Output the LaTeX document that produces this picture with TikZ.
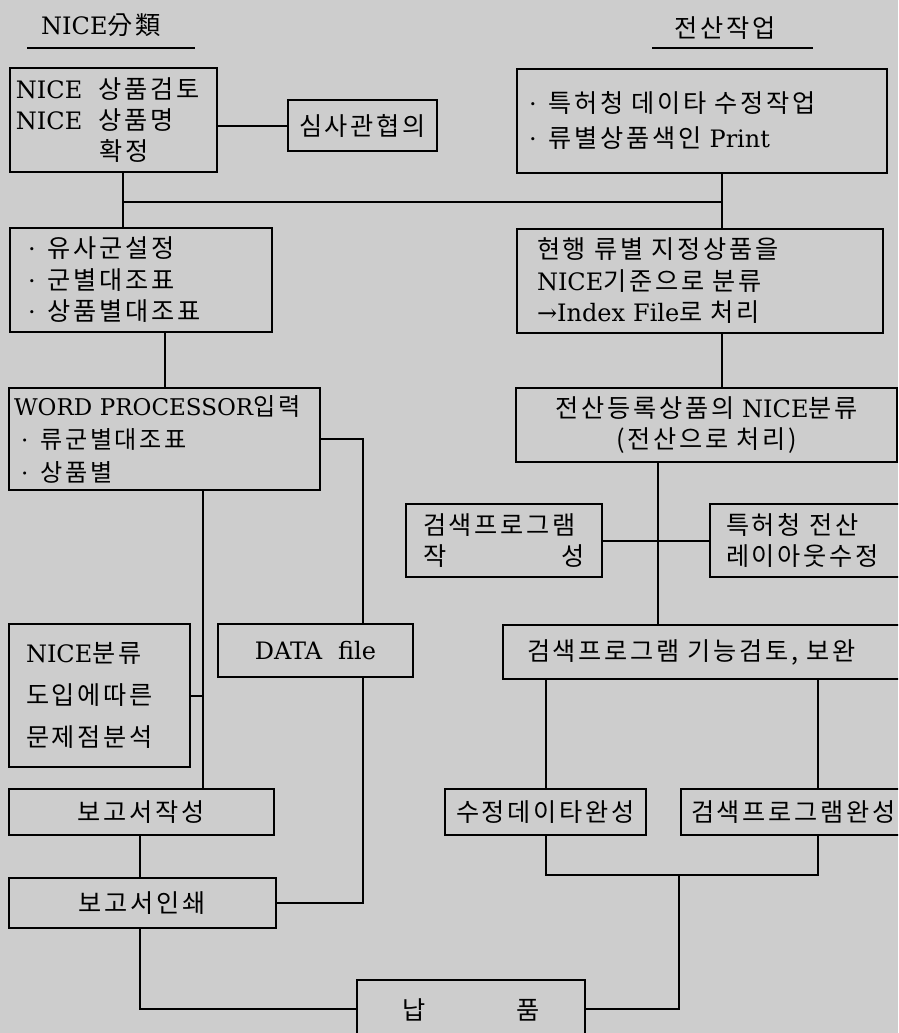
\documentclass[tikz,border=0pt]{standalone}
\usepackage{fontspec}
\setmainfont{DejaVu Serif}
\newfontfamily\kr[Scale=1.05,WordSpace=4.5,LetterSpace=11]{Noto Sans CJK KR}
\newcommand\K[1]{{\kr #1}}
\newcommand\bul{·\hspace{12pt}}
\definecolor{paper}{RGB}{205,205,205}
\begin{document}
\begin{tikzpicture}[x=1pt,y=-1pt,
  box/.style={draw,line width=2.4pt,rectangle,inner sep=0pt,font=\fontsize{24}{31}\selectfont},
  ttl/.style={inner sep=0pt,font=\fontsize{24}{31}\selectfont},
  ln/.style={line width=2pt}]
\fill[paper] (0,0) rectangle (898,1033);
\useasboundingbox (0,0) rectangle (898,1033);
\clip (0,0) rectangle (898,1033);

% titles
\node[ttl] (T1) at (101,25) {NICE\K{分類}};
\node[ttl] (T2) at (725,28) {\K{전산작업}};
\draw[ln] (27,48) -- (195,48);
\draw[ln] (652,48) -- (813,48);

% left column
\node[box,minimum width=207pt,minimum height=104pt,text width=195pt,inner xsep=6pt,align=left] (A) at (113.5,120)
  {NICE\hspace{16pt}\K{상품검토}\\NICE\hspace{16pt}\K{상품명}\\\hspace*{84pt}\K{확정}};
\node[box,minimum width=149pt,minimum height=51pt,align=center] (B) at (362.5,125.5) {\K{심사관협의}};
\node[box,minimum width=262pt,minimum height=104pt,text width=226pt,inner xsep=18pt,align=left,
  font=\fontsize{24}{31.5}\selectfont] (D) at (141,280)
  {\bul\K{유사군설정}\\\bul\K{군별대조표}\\\bul\K{상품별대조표}};
\node[box,minimum width=311pt,minimum height=102pt,text width=301pt,inner xsep=5pt,align=left,
  font=\fontsize{23}{33}\selectfont] (F) at (164.5,439)
  {WORD PROCESSOR\K{입력}\\\hspace*{7pt}\bul\K{류군별대조표}\\\hspace*{7pt}\bul\K{상품별}};
\node[box,minimum width=181pt,minimum height=143pt,text width=147pt,inner xsep=17pt,align=left,
  font=\fontsize{24}{42}\selectfont] (K) at (99.5,695.5)
  {NICE\K{분류}\\\K{도입에따른}\\\K{문제점분석}};
\node[box,minimum width=195pt,minimum height=53pt,align=center] (L) at (315.5,650.5) {DATA\hspace{16pt}file};
\node[box,minimum width=265pt,minimum height=46pt,align=center] (M) at (141.5,812) {\K{보고서작성}};
\node[box,minimum width=267pt,minimum height=50pt,align=center] (N) at (142.5,903) {\K{보고서인쇄}};

% right column
\node[box,minimum width=370pt,minimum height=104pt,text width=346pt,inner xsep=12pt,align=left,
  font=\fontsize{24}{35}\selectfont] (C) at (702,121)
  {\bul\K{특허청 데이타 수정작업}\\\bul\K{류별상품색인} Print};
\node[box,minimum width=366pt,minimum height=104pt,text width=326pt,inner xsep=20pt,align=left,
  font=\fontsize{24}{31.5}\selectfont] (E) at (700,281)
  {\K{현행 류별 지정상품을}\\NICE\K{기준으로 분류}\\→Index File\K{로 처리}};
\node[box,minimum width=381pt,minimum height=74pt,text width=370pt,align=center] (G) at (706.5,425)
  {\K{전산등록상품의} NICE\K{분류}\\\K{(전산으로 처리)}};
\node[box,minimum width=196pt,minimum height=73pt,text width=162pt,inner xsep=17pt,align=left] (H) at (504,540.5)
  {\K{검색프로그램}\\\K{작}\hfill\K{성}};
\node[box,minimum width=250pt,minimum height=73pt,text width=218pt,inner xsep=16pt,align=left] (I) at (835,540.5)
  {\K{특허청 전산}\\\K{레이아웃수정}};
\node[box,minimum width=457pt,minimum height=54pt,text width=409pt,inner xsep=24pt,align=left] (J) at (731.5,652)
  {\K{검색프로그램 기능검토, 보완}};
\node[box,minimum width=201pt,minimum height=46pt,text width=195pt,align=center] (O) at (545.5,812) {\K{수정데이타완성}};
\node[box,minimum width=279pt,minimum height=46pt,text width=259pt,inner xsep=10pt,align=left] (P) at (820.5,812)
  {\K{검색프로그램완성}};
\node[box,minimum width=228pt,minimum height=60pt,align=center] (Q) at (471,1010) {\K{납}\hspace{90pt}\K{품}};

% junction coordinates
\coordinate (j1) at (123,202);
\coordinate (j2) at (722,202);
\coordinate (c1) at (165,360);
\coordinate (j3) at (658,541);
\coordinate (j4) at (363,439);
\coordinate (j5) at (203,699);
\coordinate (j6) at (140,1009);
\coordinate (j7) at (546,875);
\coordinate (j8) at (818,875);
\coordinate (j9) at (679,875);

% connectors
\draw[ln] (B.west) -- (B.west -| A.east);
\draw[ln] (A.south -| j1) -- (D.north -| j1);
\draw[ln] (j1) -- (j2);
\draw[ln] (C.south -| j2) -- (E.north -| j2);
\draw[ln] (D.south -| c1) -- (F.north -| c1);
\draw[ln] (E.south -| j2) -- (G.north -| j2);
\draw[ln] (G.south -| j3) -- (J.north -| j3);
\draw[ln] (H.east) -- (I.west);
\draw[ln] (F.east) -- (j4) -- (L.north -| j4);
\draw[ln] (L.south -| j4) |- (N.east);
\draw[ln] (F.south -| j5) -- (M.north -| j5);
\draw[ln] (K.east) -- (K.east -| j5);
\draw[ln] (M.south -| j6) -- (N.north -| j6);
\draw[ln] (N.south -| j6) -- (j6) -- (Q.west |- j6);
\draw[ln] (J.south -| j7) -- (O.north -| j7);
\draw[ln] (J.south -| j8) -- (P.north -| j8);
\draw[ln] (O.south -| j7) -- (j7) -- (j8) -- (P.south -| j8);
\draw[ln] (j9) -- (j9 |- j6) -- (Q.east |- j6);
\end{tikzpicture}
\end{document}
